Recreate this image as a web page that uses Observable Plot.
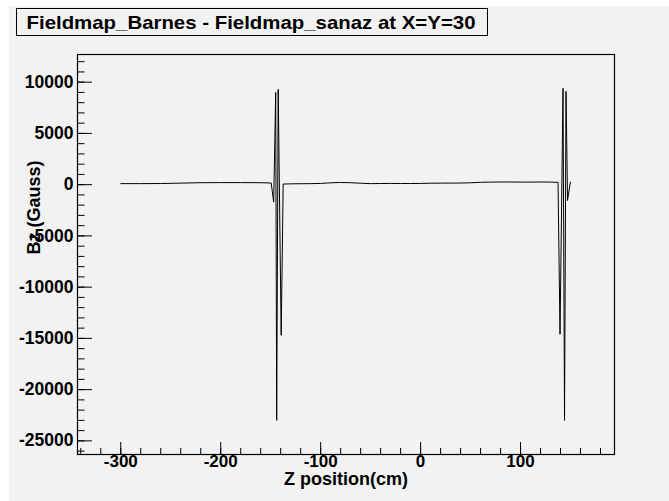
<!DOCTYPE html>
<html><head><meta charset="utf-8">
<script src="https://cdn.jsdelivr.net/npm/d3@7"></script>
<script src="https://cdn.jsdelivr.net/npm/@observablehq/plot@0.6"></script>
<style>
html,body{margin:0;padding:0;background:#fff;}
#wrap{position:relative;width:669px;height:501px;overflow:hidden;}
#bg{position:absolute;left:9px;top:6px;right:0;bottom:0;background:#f2f2f2;}
#chart{position:absolute;left:0;top:0;}
#title{position:absolute;left:0;top:0;}
</style></head><body>
<div id="wrap">
  <div id="bg"></div>
  <div id="chart"></div>
  <svg id="title" width="669" height="44">
    <rect x="16.5" y="8.5" width="471" height="27" fill="#f2f2f2" stroke="#000" stroke-width="1"></rect>
    <text x="26.5" y="29.3" font-family="Liberation Sans, Arial, Helvetica, sans-serif" font-weight="bold" font-size="19" textLength="449" lengthAdjust="spacingAndGlyphs" fill="#000">Fieldmap_Barnes - Fieldmap_sanaz at X=Y=30</text>
  </svg>
</div>
<script>
// Z position (cm) and Bz (Gauss) values
const zPos = [-300, -280, -260, -240, -220, -200, -180, -160, -149.5,
  -147, -145, -144, -142.5, -139.5, -137.5,
  -130, -120, -110, -100, -90, -80, -70, -60, -50, -40, -30, -20, -10, 0,
  10, 20, 30, 40, 50, 60, 70, 80, 90, 100, 110, 120, 130, 137.5,
  139.5, 142.5, 144, 145.5, 147, 149.5, 150];
const bz = [100, 100, 110, 150, 190, 200, 200, 190, 160,
  -1700, 9000, -23000, 9300, -14700, 60,
  80, 90, 100, 120, 180, 210, 190, 140, 100, 110, 120, 110, 110, 120,
  140, 150, 150, 160, 180, 230, 250, 260, 260, 250, 250, 260, 250, 230,
  -14600, 9400, -23000, 9100, -1550, 50, 250];

const xMajor = [-300, -200, -100, 0, 100];
const xMinor = d3.range(-340, 194, 20);
const yMajor = [10000, 5000, 0, -5000, -10000, -15000, -20000, -25000];
const yMinor = d3.range(-26000, 12701, 1000);

const titleText = "Fieldmap_Barnes - Fieldmap_sanaz at X=Y=30";
const xLabel = "Z position(cm)";
const yLabel = "Bz (Gauss)";

const data = zPos.map((z, i) => ({z, b: bz[i]}));

const W = 669, H = 501, mL = 77, mR = 55, mT = 54, mB = 47;
const fw = W - mL - mR, fh = H - mT - mB;
const font = "Liberation Sans, Arial, Helvetica, sans-serif";

const chart = Plot.plot({
  width: W, height: H,
  marginLeft: mL, marginRight: mR, marginTop: mT, marginBottom: mB,
  style: {background: "transparent", fontFamily: font},
  x: {domain: [-343.3, 194], axis: null},
  y: {domain: [-26330, 12700], axis: null},
  marks: [
    Plot.ruleX(xMinor, {x: d => d, insetTop: fh - 6, stroke: "#000", strokeWidth: 1}),
    Plot.ruleX(xMajor, {x: d => d, insetTop: fh - 12, stroke: "#000", strokeWidth: 1}),
    Plot.ruleY(yMinor, {y: d => d, insetRight: fw - 7.5, stroke: "#000", strokeWidth: 1}),
    Plot.ruleY(yMajor, {y: d => d, insetRight: fw - 15, stroke: "#000", strokeWidth: 1}),
    Plot.line(data, {x: "z", y: "b", stroke: "#000", strokeWidth: 1}),
    Plot.frame({stroke: "#000", strokeWidth: 1.2}),
    Plot.text(xMajor, {x: d => d, frameAnchor: "bottom", dy: 12, text: d => String(d),
      fontSize: 17, fontWeight: "bold", fill: "#000"}),
    Plot.text(yMajor, {y: d => d, frameAnchor: "left", dx: -4, textAnchor: "end", text: d => String(d),
      fontSize: 17.5, fontWeight: "bold", fill: "#000"}),
    Plot.text([xLabel], {frameAnchor: "bottom", dy: 30.5, text: d => d, fontSize: 18, fontWeight: "bold", fill: "#000"}),
    Plot.text([yLabel], {frameAnchor: "left", dx: -43, rotate: -90, text: d => d, fontSize: 18, fontWeight: "bold", fill: "#000"})
  ]
});
document.getElementById("chart").appendChild(chart);
</script>
</body></html>
